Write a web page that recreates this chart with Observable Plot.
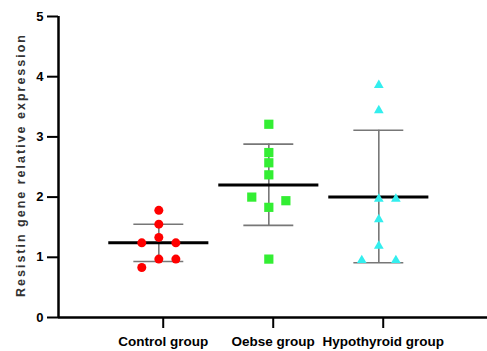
<!DOCTYPE html>
<html>
<head>
<meta charset="utf-8">
<script src="https://cdn.jsdelivr.net/npm/d3@7"></script>
<script src="https://cdn.jsdelivr.net/npm/@observablehq/plot@0.6"></script>
<style>
  html, body { margin: 0; padding: 0; background: #fff; }
  .ytitle { letter-spacing: 2px; }
</style>
</head>
<body>
<div id="chart"></div>
<script>
// ---- data ----
const groups = ["Control group", "Oebse group", "Hypothyroid group"];
const yTicks = [0, 1, 2, 3, 4, 5];
const yTitle = "Resistin gene relative expression";

const controlValues = [1.78, 1.55, 1.33, 1.24, 1.24, 0.97, 0.97, 0.83];
const controlJitter = [0, 0, 0, -1, 1, 0, 1, -1];

const obeseValues = [3.21, 2.74, 2.57, 2.37, 2.00, 1.94, 1.83, 0.97];
const obeseJitter = [0, 0, 0, 0, -1, 1, 0, 0];

const hypoValues = [3.86, 3.44, 1.97, 1.97, 1.63, 1.19, 0.95, 0.95];
const hypoJitter = [0, 0, 0, 1, 0, 0, -1, 1];

const means = [1.24, 2.20, 2.00];
const sdHigh = [1.55, 2.88, 3.11];
const sdLow = [0.93, 1.53, 0.91];

// ---- styles ----
const colors = ["#ff0000", "#33ee33", "#33eeee"];
const symbols = ["circle", "square", "triangle"];
const radii = [4.5, 5.2, 3.6];
const jitterStep = 0.155;   // horizontal spread of overlapping points
const meanHalf = 0.455;     // half width of mean line
const capHalf = 0.227;      // half width of SD caps
const tickShift = 0.04;     // category tick position offset in original

// ---- tables ----
const valueSets = [controlValues, obeseValues, hypoValues];
const jitterSets = [controlJitter, obeseJitter, hypoJitter];
const points = valueSets.flatMap((vals, g) =>
  vals.map((v, k) => ({g, x: g + jitterSets[g][k] * jitterStep, y: v}))
);
const summary = groups.map((name, i) => ({i, mean: means[i], hi: sdHigh[i], lo: sdLow[i]}));
const xTickPos = groups.map((_, i) => i + tickShift);

const xMin = -0.912, xMax = 2.988;

const chart = Plot.plot({
  width: 487,
  height: 351,
  marginLeft: 58,
  marginRight: 0,
  marginTop: 16,
  marginBottom: 34,
  x: {domain: [xMin, xMax]},
  y: {domain: [0, 5]},
  style: {fontFamily: "'Liberation Sans', Arial, sans-serif", background: "#fff", color: "#000"},
  marks: [
    Plot.axisY({ticks: yTicks, tickSize: 11, tickPadding: 4, fontSize: 13, fontWeight: "bold",
      strokeWidth: 2, label: null, tickFormat: d => String(d)}),
    Plot.axisX(xTickPos, {tickSize: 11, tickPadding: 8, fontSize: 13.5, fontWeight: "bold",
      strokeWidth: 2, label: null, tickFormat: d => groups[xTickPos.indexOf(d)]}),
    Plot.ruleY([0], {stroke: "#000", strokeWidth: 2.5}),
    Plot.ruleX([xMin], {y1: 0, y2: 5, stroke: "#000", strokeWidth: 2.5}),
    Plot.text([yTitle], {frameAnchor: "left", textAnchor: "middle", rotate: -90, dx: -38, dy: -2,
      fontSize: 12.5, fontWeight: "bold", fill: "#333", className: "ytitle"}),
    // error bars
    Plot.ruleX(summary, {x: "i", y1: "lo", y2: "hi", stroke: "#777", strokeWidth: 1.6}),
    Plot.ruleY(summary, {y: "hi", x1: d => d.i - capHalf, x2: d => d.i + capHalf, stroke: "#777", strokeWidth: 1.6}),
    Plot.ruleY(summary, {y: "lo", x1: d => d.i - capHalf, x2: d => d.i + capHalf, stroke: "#777", strokeWidth: 1.6}),
    Plot.ruleY(summary, {y: "mean", x1: d => d.i - meanHalf, x2: d => d.i + meanHalf, stroke: "#000", strokeWidth: 3}),
    // points
    ...groups.map((_, g) => Plot.dot(points.filter(p => p.g === g), {
      x: "x", y: "y", symbol: () => symbols[g], r: radii[g], fill: colors[g], stroke: "none"
    }))
  ]
});
document.getElementById("chart").appendChild(chart);
// letter spacing for the y title (fallback if className unsupported)
d3.select(chart).selectAll("text").filter(function () { return this.textContent === yTitle; })
  .style("letter-spacing", "2px");
</script>
</body>
</html>
